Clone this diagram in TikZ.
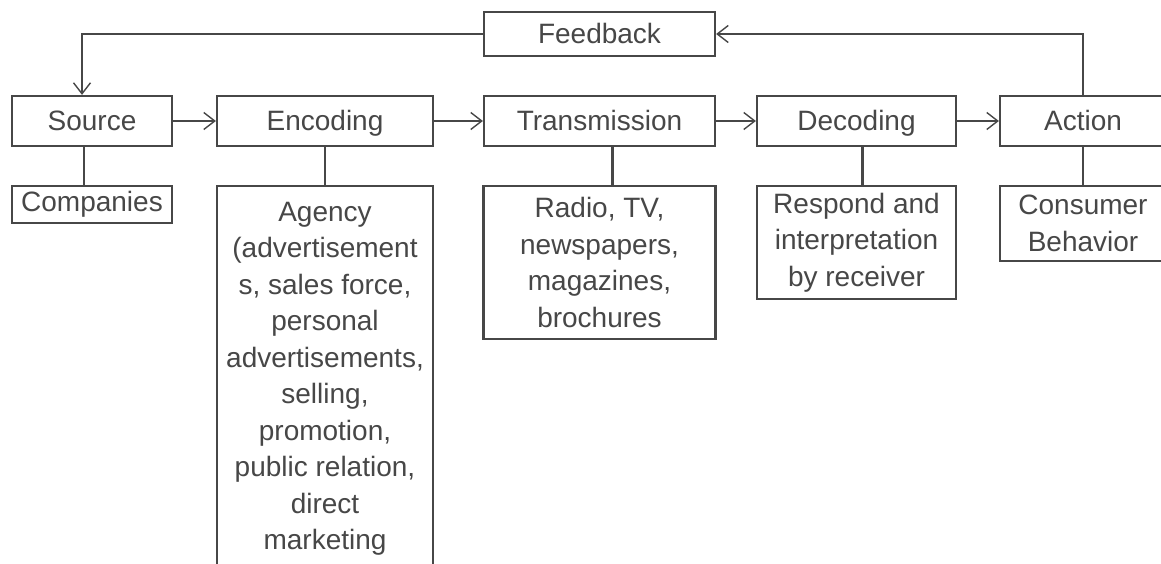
\documentclass[tikz,border=0pt]{standalone}
\usepackage{fontspec}
\setmainfont{Liberation Sans}
\usetikzlibrary{arrows.meta}
\definecolor{ink}{HTML}{474747}

\begin{document}
\begin{tikzpicture}[x=1pt,y=-1pt,
    box/.style={draw=ink,line width=2.2pt,text=ink,inner sep=0pt,align=center,
      font=\fontsize{28}{36.5}\selectfont},
    stage/.style={box,minimum height=50,text height=22pt,text depth=2pt},
    flow/.style={draw=ink,line width=1.4pt,
      -{Straight Barb[length=11pt,width=17pt,line width=1.4pt]}},
    link/.style={draw=ink,line width=2.2pt}]
  \clip (0,0) rectangle (1161,564);
  \fill[white] (0,0) rectangle (1161,564);

  % main row
  \node[stage,minimum width=231,minimum height=44] (feedback) at (599.5,34) {Feedback};
  \node[stage,minimum width=160] (source) at (92,121) {Source};
  \node[stage,minimum width=216] (encoding) at (325,121) {Encoding};
  \node[stage,minimum width=231] (trans) at (599.5,121) {Transmission};
  \node[stage,minimum width=199] (decoding) at (856.5,121) {Decoding};
  \node[stage,minimum width=166] (action) at (1083,121) {Action};

  % boxes underneath
  \node[box,anchor=north,minimum width=160,minimum height=37] (companies) at (92,185) {Companies};
  \node[box,anchor=north,minimum width=216,minimum height=385] (agency) at (325,185)
    {Agency\\(advertisement\\s, sales force,\\personal\\advertisements,\\selling,\\promotion,\\public relation,\\direct\\marketing};
  \node[box,anchor=north,minimum width=232,minimum height=153] (media) at (599.5,185)
    {Radio, TV,\\newspapers,\\magazines,\\brochures};
  \node[box,anchor=north,minimum width=199,minimum height=113] (receiver) at (856.5,185)
    {Respond and\\interpretation\\by receiver};
  \node[box,anchor=north,minimum width=166,minimum height=75] (consumer) at (1083,185)
    {Consumer\\Behavior};

  \draw[flow] (source) -- (encoding);
  \draw[flow] (encoding) -- (trans);
  \draw[flow] (trans) -- (decoding);
  \draw[flow] (decoding) -- (action);
  \draw[flow] (action.north) |- (feedback.east);
  \draw[flow] (feedback.west) -| ([xshift=-10pt]source.north);

  \draw[link] ([xshift=-8pt]source.south) -- ([xshift=-8pt]companies.north);
  \draw[link] (encoding) -- (agency);
  \draw[link] ([xshift=13pt]trans.south) -- ([xshift=13pt]media.north);
  \draw[link] ([xshift=6pt]decoding.south) -- ([xshift=6pt]receiver.north);
  \draw[link] (action) -- (consumer);
\end{tikzpicture}
\end{document}
